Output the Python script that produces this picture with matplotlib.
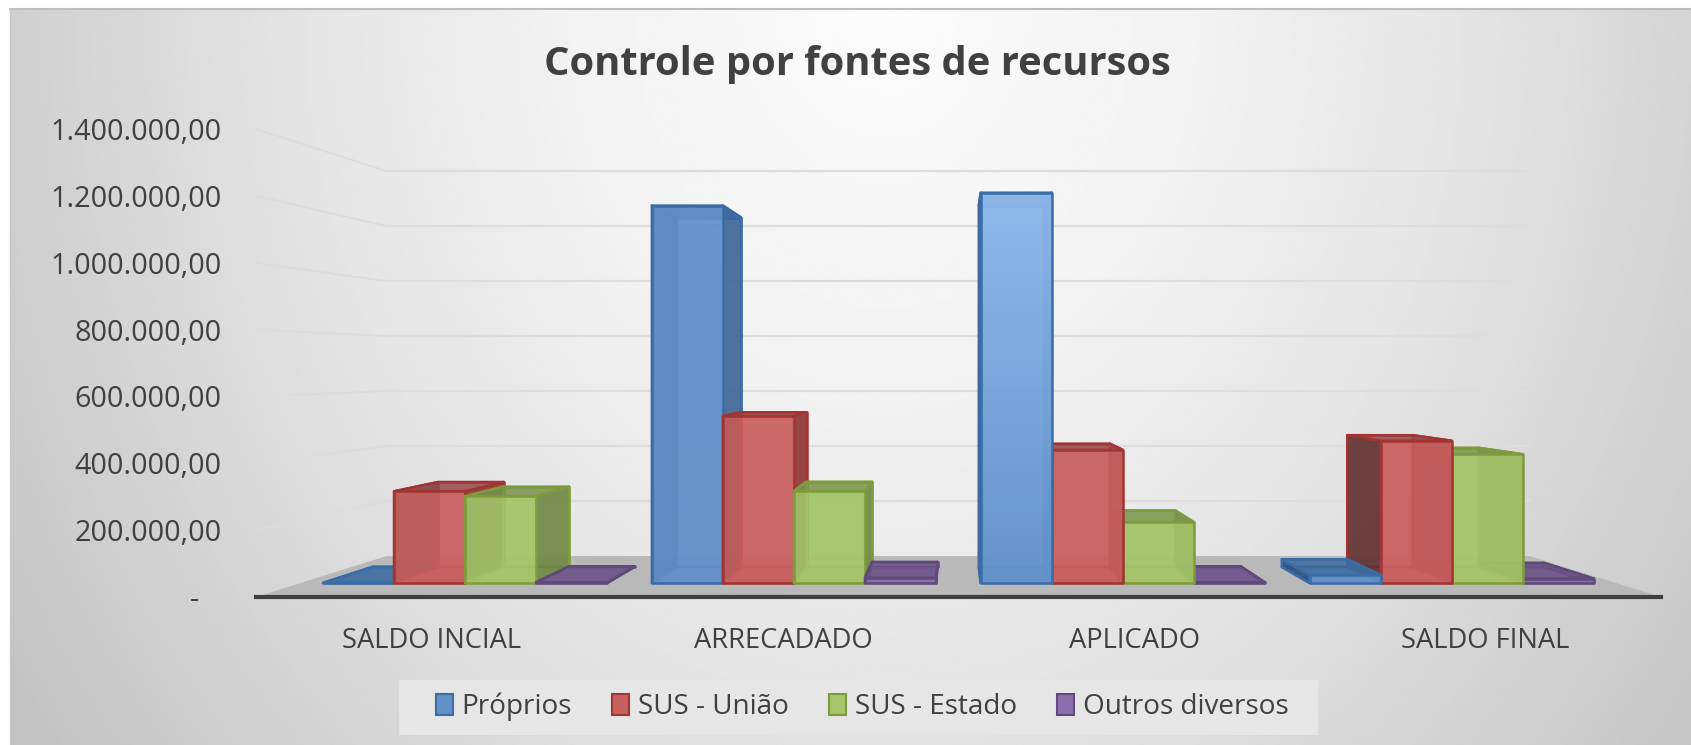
#!/usr/bin/env python3
# -*- coding: utf-8 -*-

import numpy as np
import matplotlib
matplotlib.use('Agg')
import matplotlib.pyplot as plt
from matplotlib.patches import Patch, Polygon, Rectangle

plt.rcParams['font.family'] = ['Open Sans', 'DejaVu Sans']

W, H = 1691, 745

categorias = ['SALDO INCIAL', 'ARRECADADO', 'APLICADO', 'SALDO FINAL']
series = ['Próprios', 'SUS - União', 'SUS - Estado', 'Outros diversos']
proprios = [0, 1202000, 1243000, 26000]
sus_uniao = [292000, 532000, 424000, 453000]
sus_estado = [276000, 293000, 194000, 410000]
outros = [2000, 17000, 2000, 14000]
y_ticks = [0, 200000, 400000, 600000, 800000, 1000000, 1200000, 1400000]
y_labels = ['-   ', '200.000,00', '400.000,00', '600.000,00', '800.000,00',
            '1.000.000,00', '1.200.000,00', '1.400.000,00']

valores = [proprios, sus_uniao, sus_estado, outros]

# cores: frente, lados, topo, borda
cores = [
    ('#6490C8', '#3F6592', '#3F6A9B', '#3A6CA6'),
    ('#C96060', '#8C3636', '#94504F', '#A23533'),
    ('#A6C46A', '#6C8446', '#7C9350', '#7E9C3C'),
    ('#8E6EAD', '#5E4A78', '#6B5684', '#5F4A7C'),
]
cor_lado_esq = ['#2F4F78', '#5A3030', '#55693A', '#4A3A60']

# ponto de fuga e profundidades da perspectiva (dados)
VX, VY = 1.993, 690000
T_FRENTE, T_FUNDO, T_PAREDE = 0.0607, 0.1308, 0.1774
K_X = 1.05
LARG = 0.216


def proj(x, y, t):
    return (x + K_X * t * (VX - x), y + t * (VY - y))


def fundo(fig):
    ax_bg = fig.add_axes([10 / W, 0, 1 - 10 / W, 1 - 9 / H])
    yy, xx = np.mgrid[0:1:300j, 0:1:600j]
    r = np.sqrt(((xx - 0.52) / 0.62) ** 2 + ((yy - 0.0) / 1.7) ** 2)
    niveis = np.interp(r, [0, 0.3, 0.6, 1.0, 1.3], [0.985, 0.95, 0.885, 0.765, 0.74])
    ax_bg.imshow(niveis, cmap='gray', vmin=0, vmax=1, aspect='auto', origin='upper',
                 interpolation='bilinear')
    ax_bg.axis('off')
    fig.add_artist(plt.Line2D([10 / W, 1], [1 - 9 / H, 1 - 9 / H], color='#BDBDBD', lw=1.5))
    fig.add_artist(plt.Line2D([10 / W, 10 / W], [0, 1 - 9 / H], color='#C8C8C8', lw=1))


def desenha_barra(ax, x0, x1, valor, cor, cor_esq, z, gradiente=False):
    frente, lado, topo, borda = cor
    def face(pts, fc, alpha, zo):
        ax.add_patch(Polygon(pts, closed=True, facecolor=matplotlib.colors.to_rgba(fc, alpha),
                             edgecolor=borda, lw=1.8, joinstyle='round', clip_on=False, zorder=zo))

    a = proj(x0, 0, T_FRENTE)
    b = proj(x1, 0, T_FRENTE)
    c = proj(x1, valor, T_FRENTE)
    d = proj(x0, valor, T_FRENTE)
    e = proj(x0, 0, T_FUNDO)
    f = proj(x1, 0, T_FUNDO)
    g = proj(x1, valor, T_FUNDO)
    h = proj(x0, valor, T_FUNDO)

    face([e, f, g, h], frente, 0.55, z)
    face([a, b, f, e], frente, 0.8, z + 0.1)
    face([a, d, h, e], cor_esq, 0.85, z + 0.2)
    face([b, c, g, f], lado, 0.85, z + 0.2)
    face([d, c, g, h], topo, 0.8, z + 0.3)
    if gradiente:
        tons = np.linspace(1, 0, 100).reshape(-1, 1)
        img = np.zeros((100, 1, 3))
        claro = np.array(matplotlib.colors.to_rgb('#8FB8EC'))
        base = np.array(matplotlib.colors.to_rgb('#6392CB'))
        img[:, 0, :] = base + (claro - base) * tons
        im = ax.imshow(img, extent=(a[0], b[0], a[1], d[1]), aspect='auto', origin='upper',
                       zorder=z + 0.4, alpha=0.95)
        im.set_clip_path(Polygon([a, b, c, d], closed=True, transform=ax.transData))
        face([a, b, c, d], (0, 0, 0, 0), 0, z + 0.5)
    else:
        face([a, b, c, d], frente, 0.88, z + 0.4)


fig = plt.figure(figsize=(W / 100, H / 100), dpi=100, facecolor='white')
fundo(fig)

ax = fig.add_axes([256 / W, 1 - 597 / H, (1661 - 256) / W, (597 - 129) / H])
ax.patch.set_alpha(0)

# chão
ax.add_patch(Polygon([proj(0, 0, 0), proj(0, 0, T_PAREDE), proj(4, 0, T_PAREDE), proj(4, 0, 0)],
                     closed=True, facecolor='#B9B9B9', edgecolor='none', clip_on=False, zorder=1))

# grades: parte lateral mais fraca, parede do fundo mais forte
for v in y_ticks[1:]:
    p0 = proj(0, v, 0)
    p1 = proj(0, v, T_PAREDE)
    p2 = proj(4, v, T_PAREDE)
    ax.plot([p0[0], p1[0]], [p0[1], p1[1]], color='#DCDCDC', lw=1.4, clip_on=False, zorder=1)
    ax.plot([p1[0], p2[0]], [p1[1], p2[1]], color='#DDDDDD', lw=1.6, clip_on=False, zorder=1)

# barras, da ponta para o centro (perto do ponto de fuga por cima)
z = 2
for i in range(len(categorias)):
    ordem = range(4) if i + 0.5 < VX else range(3, -1, -1)
    for j in ordem:
        centro = i + 0.5 + (j - 1.5) * LARG
        x0, x1 = centro - LARG / 2, centro + LARG / 2
        desenha_barra(ax, x0, x1, valores[j][i], cores[j], cor_lado_esq[j], z,
                      gradiente=(i == 2 and j == 0))
        z += 1

ax.set_xlim(0, 4)
ax.set_ylim(0, 1400000)
ax.set_xticks([i + 0.5 for i in range(4)])
ax.set_xticklabels(categorias, fontsize=19.7, color='#404040')
ax.set_yticks(y_ticks)
ax.set_yticklabels(y_labels, fontsize=20.7, color='#404040')
ax.tick_params(axis='x', length=0, pad=21.5)
ax.tick_params(axis='y', length=0, pad=25)
for lado_ax in ['left', 'right', 'top']:
    ax.spines[lado_ax].set_visible(False)
ax.spines['bottom'].set_color('#404040')
ax.spines['bottom'].set_linewidth(3)
ax.spines['bottom'].set_zorder(50)

fig.text(857 / W, 1 - 65 / H, 'Controle por fontes de recursos', fontsize=28.7, fontweight='bold',
         color='#404040', ha='center', va='center')

# legenda
fig.add_artist(Rectangle((399 / W, 1 - 735 / H), 919 / W, 55 / H, transform=fig.transFigure,
                         facecolor='#E6E6E6', edgecolor='none'))
handles = [Patch(facecolor=cores[k][0], edgecolor=cores[k][3], lw=1.5, label=series[k]) for k in range(4)]
fig.legend(handles=handles, loc='center', bbox_to_anchor=(862 / W, 1 - 707 / H), ncols=4,
           frameon=False, fontsize=20.1, labelcolor='#404040', handlelength=0.62, handleheight=0.8,
           handletextpad=0.3, columnspacing=1.44)

plt.savefig('out.png', dpi=100)
plt.close()
